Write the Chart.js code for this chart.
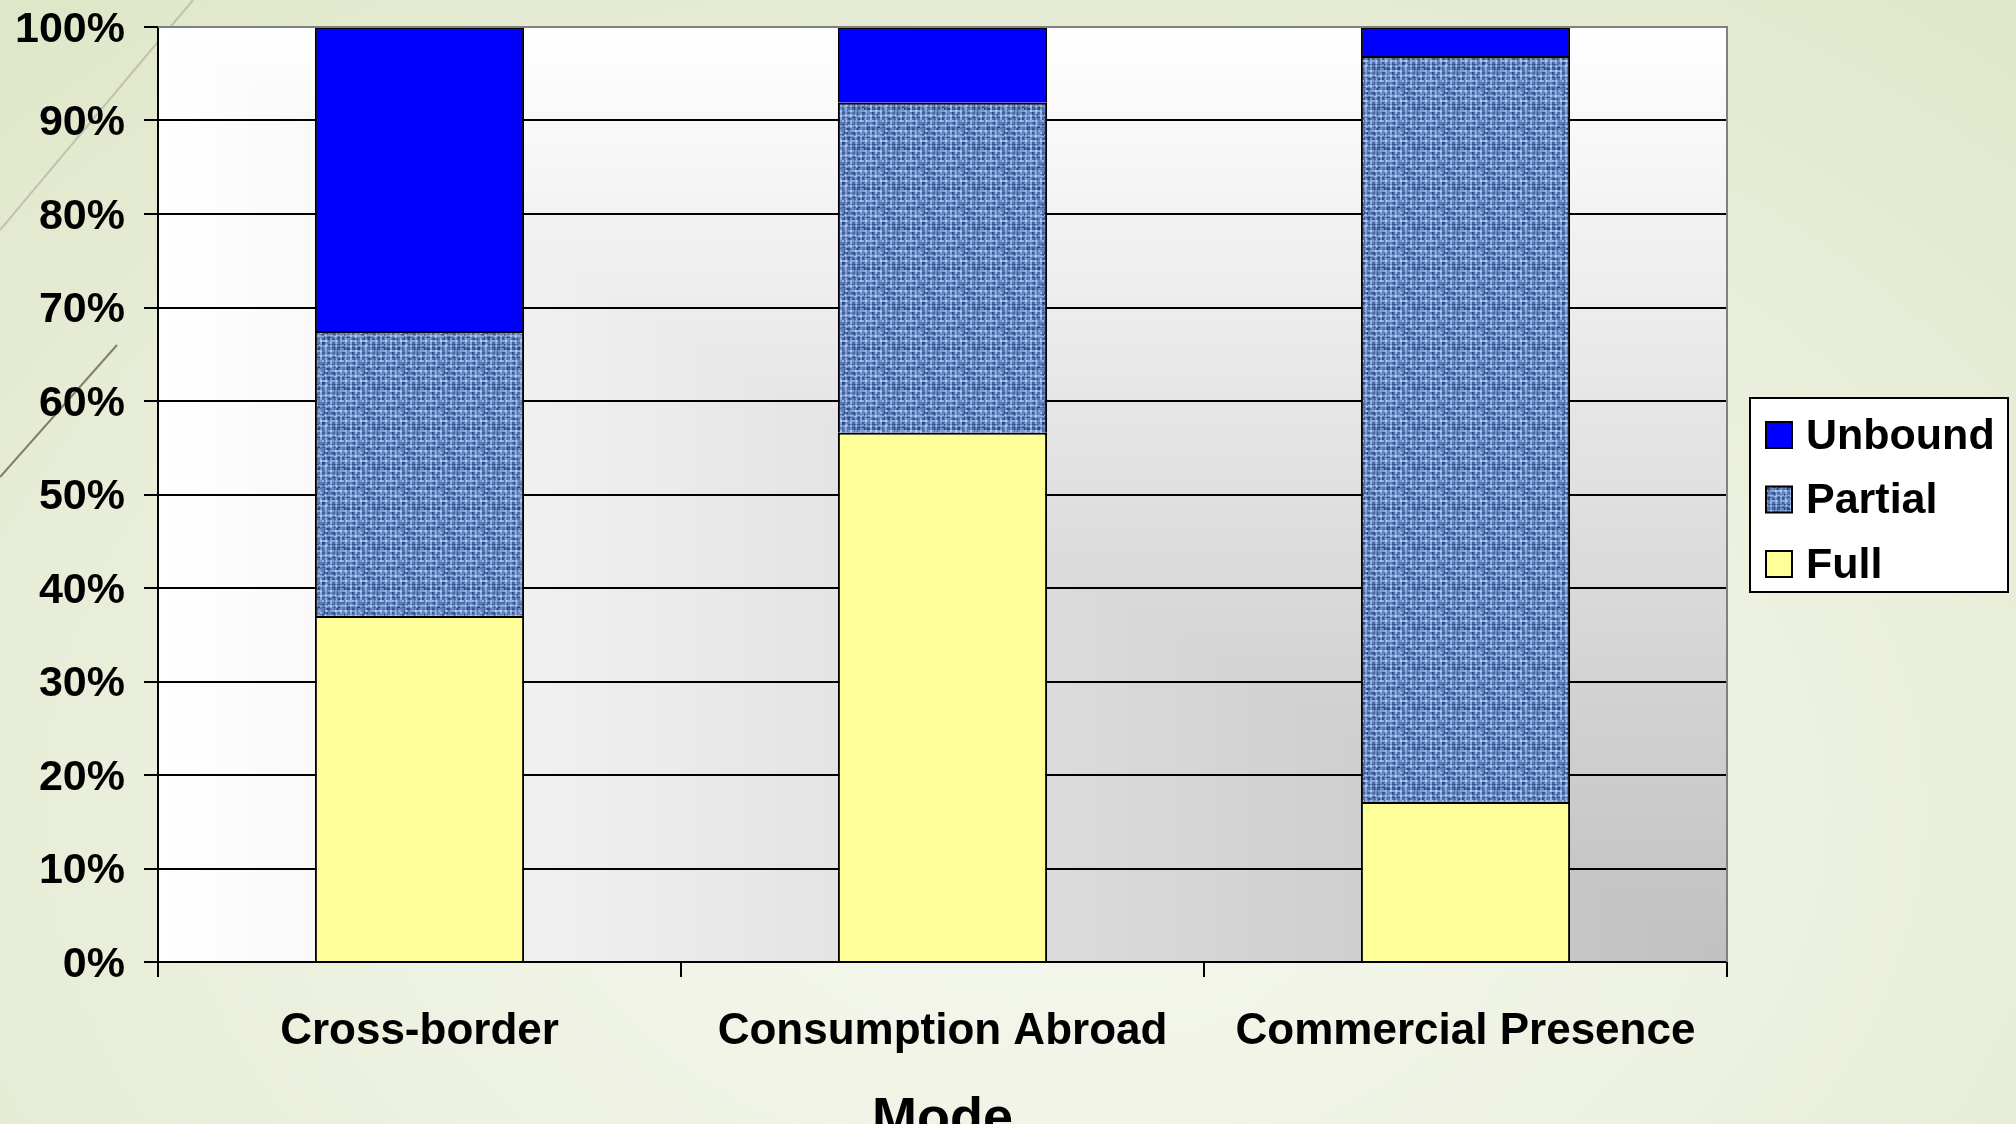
<!DOCTYPE html>
<html>
<head>
<meta charset="utf-8">
<script src="https://cdn.jsdelivr.net/npm/chart.js@4.4.0/dist/chart.umd.min.js"></script>
<style>
  html, body { margin: 0; padding: 0; }
  body {
    width: 2016px; height: 1124px; overflow: hidden;
    background: radial-gradient(ellipse 75% 95% at 52% 72%, #f5f7ee 0%, #eef2e2 45%, #dfe7c9 100%);
  }
  canvas { display: block; }
</style>
</head>
<body>
<canvas id="chart" width="2016" height="1124"></canvas>
<script>
const categories = ['Cross-border', 'Consumption Abroad', 'Commercial Presence']
const fullValues = [37.0, 56.6, 17.1]
const partialValues = [30.5, 35.3, 79.8]
const unboundValues = [32.5, 8.1, 3.1]
const tickLabels = ['0%', '10%', '20%', '30%', '40%', '50%', '60%', '70%', '80%', '90%', '100%']

Chart.defaults.font.family = "'Liberation Sans', Arial, sans-serif"
Chart.defaults.color = '#000'

// blue woven texture for the "Partial" series
function makeWeave(){
    let size = 40
    let tile = document.createElement('canvas')
    tile.width = size
    tile.height = size
    let tctx = tile.getContext('2d')
    let img = tctx.createImageData(size, size)
    for (let y = 0; y < size; y++){
        for (let x = 0; x < size; x++){
            let bx = Math.floor(x / 2), by = Math.floor(y / 2)
            let h = Math.sin(bx * 12.9898 + by * 78.233) * 43758.5453
            h = h - Math.floor(h)
            let thread = (x % 5 < 2 ? 0.28 : 0) + (y % 5 < 2 ? 0.28 : 0)
            let t = Math.min(1, Math.max(0, 0.08 + thread + h * 0.5))
            let i = (y * size + x) * 4
            img.data[i] = Math.round(24 + (172 - 24) * t)
            img.data[i + 1] = Math.round(56 + (202 - 56) * t)
            img.data[i + 2] = Math.round(120 + (250 - 120) * t)
            img.data[i + 3] = 255
        }
    }
    tctx.putImageData(img, 0, 0)
    return document.getElementById('chart').getContext('2d').createPattern(tile, 'repeat')
}

const weave = makeWeave()

const plotBackground = {
    id: 'plotBackground',
    beforeDraw(chart){
        const {ctx, chartArea: a} = chart
        ctx.save()
        // faint theme lines on the slide
        ctx.lineWidth = 2
        ctx.strokeStyle = 'rgba(170,170,150,0.6)'
        ctx.beginPath()
        ctx.moveTo(193, 0)
        ctx.lineTo(0, 230)
        ctx.stroke()
        ctx.strokeStyle = '#857d6a'
        ctx.beginPath()
        ctx.moveTo(117, 345)
        ctx.lineTo(0, 477)
        ctx.stroke()

        // rectangular gradient from the bottom-right corner
        let w = a.right - a.left
        let h = a.bottom - a.top
        for (let i = 120; i >= 1; i--){
            let t = i / 120
            let g = Math.round(192 + 63 * t)
            ctx.fillStyle = `rgb(${g},${g},${g})`
            ctx.fillRect(a.right - w * t, a.bottom - h * t, w * t, h * t)
        }
        ctx.restore()
    },
    afterDatasetsDraw(chart){
        const {ctx, chartArea: a} = chart
        ctx.save()
        ctx.strokeStyle = '#808080'
        ctx.lineWidth = 2
        ctx.beginPath()
        ctx.moveTo(a.left, a.top)
        ctx.lineTo(a.right, a.top)
        ctx.lineTo(a.right, a.bottom)
        ctx.stroke()
        ctx.restore()
    }
}

const boxLegend = {
    id: 'boxLegend',
    afterDraw(chart){
        const ctx = chart.ctx
        let sets = chart.data.datasets.slice().reverse()
        ctx.save()
        ctx.fillStyle = '#fff'
        ctx.fillRect(1750, 398, 258, 194)
        ctx.strokeStyle = '#000'
        ctx.lineWidth = 2
        ctx.strokeRect(1750, 398, 258, 194)
        ctx.font = "bold 43px 'Liberation Sans', Arial, sans-serif"
        ctx.textBaseline = 'middle'
        ctx.textAlign = 'left'
        sets.forEach(function(ds, i){
            let cy = 435 + i * 64.5
            ctx.fillStyle = ds.backgroundColor
            ctx.fillRect(1766, cy - 13, 26, 26)
            ctx.lineWidth = 2
            ctx.strokeStyle = '#000'
            ctx.strokeRect(1766, cy - 13, 26, 26)
            ctx.fillStyle = '#000'
            ctx.fillText(ds.label, 1806, cy + 2)
        })
        ctx.restore()
    }
}

new Chart(document.getElementById('chart'), {
    type: 'bar',
    data: {
        labels: categories,
        datasets: [
            {label: 'Full', data: fullValues, backgroundColor: '#ffff99'},
            {label: 'Partial', data: partialValues, backgroundColor: weave},
            {label: 'Unbound', data: unboundValues, backgroundColor: '#0000ff'}
        ]
    },
    options: {
        responsive: false,
        animation: false,
        devicePixelRatio: 1,
        layout: {padding: {top: 27, right: 289, bottom: 0, left: 0}},
        datasets: {
            bar: {
                borderColor: '#000',
                borderWidth: 2,
                categoryPercentage: 1,
                barPercentage: 0.4
            }
        },
        plugins: {
            legend: {display: false},
            tooltip: {enabled: false}
        },
        scales: {
            x: {
                stacked: true,
                afterFit: function(scale){ scale.height = 162 },
                grid: {
                    offset: true,
                    drawOnChartArea: false,
                    drawTicks: true,
                    tickLength: 15,
                    color: '#000',
                    lineWidth: 2
                },
                border: {color: '#000', width: 2},
                ticks: {
                    maxRotation: 0,
                    autoSkip: false,
                    padding: 28,
                    font: {family: "'Liberation Sans Narrow', 'Liberation Sans', Arial, sans-serif", size: 44, weight: 'bold'}
                },
                title: {
                    display: true,
                    text: 'Mode',
                    font: {size: 54, weight: 'bold', lineHeight: 1},
                    padding: {top: 0, bottom: -23}
                }
            },
            y: {
                stacked: true,
                min: 0,
                max: 100,
                afterFit: function(scale){
                    scale.width = 158
                    scale.paddingTop = 0
                    scale.paddingBottom = 0
                },
                grid: {
                    color: function(c){ return c.tick && c.tick.value === 100 ? '#808080' : '#000' },
                    tickColor: '#000',
                    lineWidth: 2,
                    tickLength: 14
                },
                border: {color: '#000', width: 2},
                ticks: {
                    stepSize: 10,
                    padding: 19,
                    labelOffset: 3,
                    font: {size: 43, weight: 'bold'},
                    callback: function(v, i){ return tickLabels[i] }
                }
            }
        }
    },
    plugins: [plotBackground, boxLegend]
})
</script>
</body>
</html>
